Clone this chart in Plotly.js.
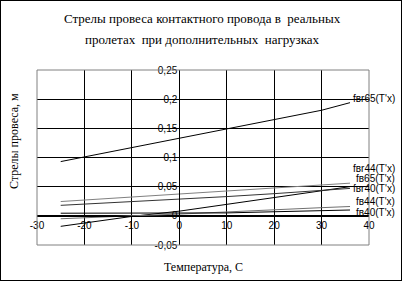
<!DOCTYPE html>
<html><head><meta charset="utf-8">
<script src="https://cdn.plot.ly/plotly-3.0.1.min.js"></script>
<style>html,body{margin:0;padding:0;background:#fff}#chart{width:402px;height:281px;box-sizing:border-box;border:1px solid #000}</style>
</head><body><div id="chart"></div>
<script>
// Data
const temperature = [-25, -20, -10, 0, 10, 20, 30, 36];
const fvr65 = [0.093, 0.101, 0.117, 0.133, 0.149, 0.165, 0.181, 0.194];
const fvr44 = [0.0245, 0.027, 0.032, 0.037, 0.042, 0.047, 0.053, 0.056];
const fv65 = [-0.018, -0.012, -0.001, 0.008, 0.020, 0.031, 0.043, 0.050];
const fvr40 = [0.018, 0.020, 0.024, 0.028, 0.033, 0.038, 0.044, 0.047];
const fv44 = [-0.005, -0.003, 0.000, 0.003, 0.007, 0.010, 0.014, 0.016];
const fv40 = [0.0045, 0.0045, 0.004, 0.004, 0.005, 0.007, 0.009, 0.010];
const seriesNames = ["fвr65(T'x)", "fвr44(T'x)", "fв65(T'x)", "fвr40(T'x)", "fв44(T'x)", "fв40(T'x)"];
const xTickVals = [-30, -20, -10, 0, 10, 20, 30, 40];
const xTickText = ["-30", "-20", "-10", "0", "10", "20", "30", "40"];
const yTickVals = [-0.05, 0, 0.05, 0.1, 0.15, 0.2, 0.25];
const yTickText = ["-0,05", "0", "0,05", "0,1", "0,15", "0,2", "0,25"];

const seriesY = [fvr65, fvr44, fv65, fvr40, fv44, fv40];
const colors = ['#000000', '#808080', '#000000', '#333333', '#707070', '#000000'];
const labelY = [0.202, 0.082, 0.0645, 0.047, 0.024, 0.005];

const traces = seriesY.map((y, i) => ({
  x: temperature, y: y, type: 'scatter', mode: 'lines', name: seriesNames[i],
  line: {color: colors[i], width: 1}, showlegend: false, hoverinfo: 'skip'
}));

const W = 332, H = 175;
const annotations = seriesNames.map((n, i) => ({
  text: n, xref: 'paper', yref: 'y', x: (395 - 36) / W, y: labelY[i],
  xanchor: 'right', yanchor: 'middle', showarrow: false, borderpad: 0,
  font: {family: 'Liberation Sans, Arial', size: 10, color: '#000'}
}));
annotations.push(
  {text: 'Стрелы провеса контактного провода в  реальных', xref: 'paper', yref: 'paper',
   x: (201 - 36) / W, y: (244 - 17) / H, xanchor: 'center', yanchor: 'middle', showarrow: false,
   font: {family: 'Liberation Serif, Times New Roman', size: 13, color: '#000'}},
  {text: 'пролетах  при дополнительных  нагрузках', xref: 'paper', yref: 'paper',
   x: (201 - 36) / W, y: (244 - 38) / H, xanchor: 'center', yanchor: 'middle', showarrow: false,
   font: {family: 'Liberation Serif, Times New Roman', size: 13, color: '#000'}},
  {text: 'Температура, С', xref: 'paper', yref: 'paper',
   x: (202 - 36) / W, y: (244 - 266) / H, xanchor: 'center', yanchor: 'middle', showarrow: false,
   font: {family: 'Liberation Serif, Times New Roman', size: 12, color: '#000'}},
  {text: 'Стрелы провеса, м', xref: 'paper', yref: 'paper', textangle: -90,
   x: (13 - 36) / W, y: (244 - 140) / H, xanchor: 'center', yanchor: 'middle', showarrow: false,
   font: {family: 'Liberation Serif, Times New Roman', size: 12, color: '#000'}}
);

const layout = {
  width: 402, height: 281,
  margin: {l: 36, r: 34, t: 69, b: 37, pad: 0},
  paper_bgcolor: 'rgba(0,0,0,0)', plot_bgcolor: '#fff',
  showlegend: false,
  xaxis: {
    range: [-30, 40], tickvals: xTickVals, ticktext: xTickText,
    showgrid: true, gridcolor: '#000', gridwidth: 1, zeroline: false,
    showline: true, linecolor: '#000', linewidth: 1,
    anchor: 'free', position: 1 / 6, ticks: '', ticklen: 0,
    tickfont: {family: 'Liberation Sans, Arial', size: 10, color: '#000'},
    mirror: false, fixedrange: true
  },
  yaxis: {
    range: [-0.05, 0.25], tickvals: yTickVals, ticktext: yTickText,
    showgrid: true, gridcolor: '#000', gridwidth: 1, zeroline: false,
    showline: true, linecolor: '#000', linewidth: 1,
    anchor: 'free', position: 30 / 70, ticks: '',
    tickfont: {family: 'Liberation Sans, Arial', size: 10, color: '#000'},
    fixedrange: true
  },
  shapes: [{type: 'rect', xref: 'paper', yref: 'paper', x0: 0, x1: 1, y0: 0, y1: 1,
            line: {color: '#808080', width: 1}, layer: 'above'}],
  annotations: annotations
};

Plotly.newPlot('chart', traces, layout, {staticPlot: true, displayModeBar: false});
</script></body></html>
